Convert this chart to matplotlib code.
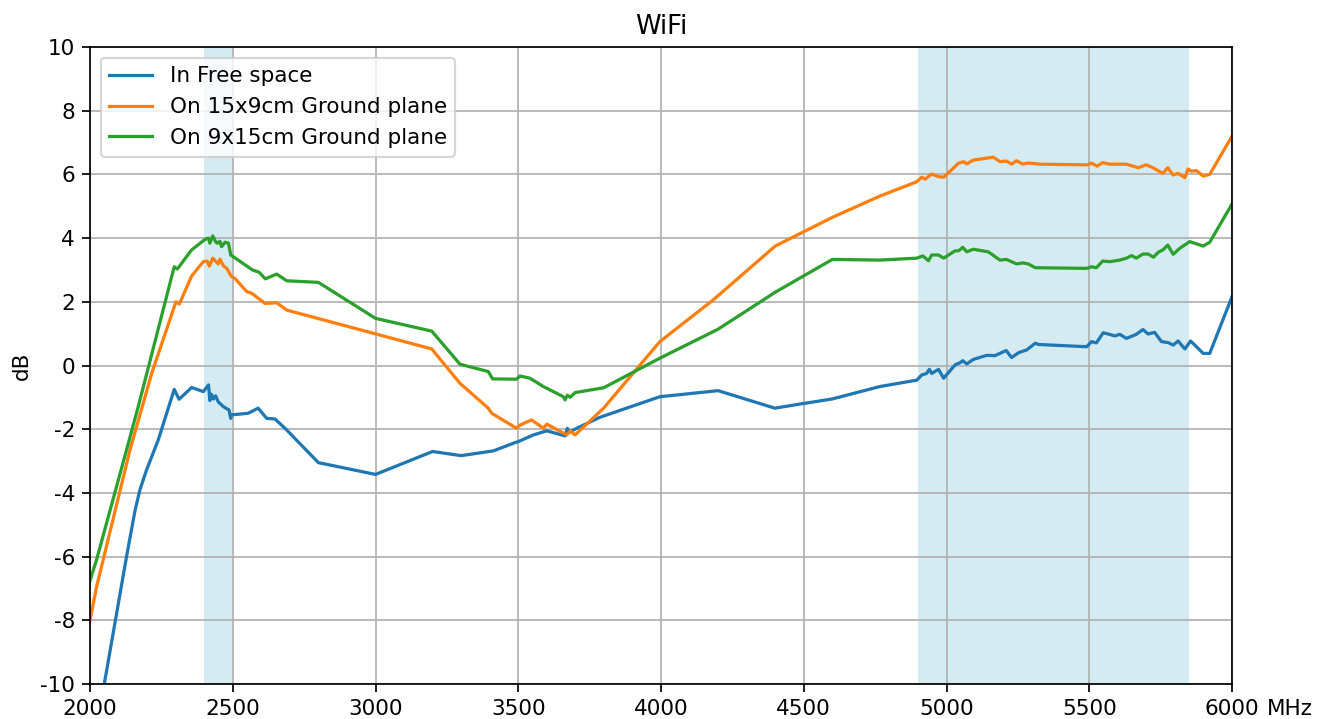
import matplotlib
matplotlib.use("Agg")
import matplotlib.pyplot as plt

plt.rcParams['axes.unicode_minus'] = False

free_f = [2050, 2128, 2158, 2175, 2198, 2239, 2295, 2312, 2356, 2397, 2415, 2420, 2425, 2432, 2440,
          2449, 2467, 2487, 2493, 2496, 2554, 2589, 2619, 2648, 2683, 2800, 3000, 3200, 3300, 3413,
          3489, 3500, 3553, 3600, 3664, 3672, 3678, 3705, 3785, 3996, 4200, 4399, 4487, 4600, 4767,
          4896, 4913, 4930, 4940, 4948, 4972, 4990, 5030, 5048, 5057, 5071, 5094, 5141, 5170, 5209,
          5228, 5252, 5281, 5311, 5322, 5491, 5508, 5525, 5549, 5590, 5607, 5630, 5665, 5688, 5706,
          5729, 5753, 5776, 5794, 5811, 5835, 5855, 5899, 5922, 6000]
free_db = [-10.0, -6.0, -4.54, -3.9, -3.28, -2.34, -0.75, -1.06, -0.69, -0.82, -0.61, -1.10, -0.9, -1.05, -0.95,
           -1.14, -1.29, -1.40, -1.66, -1.55, -1.50, -1.34, -1.66, -1.68, -1.97, -3.05, -3.42, -2.70, -2.83, -2.68,
           -2.42, -2.39, -2.18, -2.05, -2.21, -1.97, -2.10, -1.97, -1.63, -0.98, -0.79, -1.34, -1.21, -1.05, -0.66,
           -0.46, -0.30, -0.25, -0.12, -0.25, -0.12, -0.40, 0.02, 0.09, 0.15, 0.05, 0.19, 0.32, 0.31, 0.47,
           0.25, 0.40, 0.49, 0.70, 0.66, 0.59, 0.75, 0.71, 1.03, 0.93, 0.98, 0.85, 0.98, 1.13, 0.99,
           1.04, 0.75, 0.72, 0.64, 0.77, 0.52, 0.77, 0.38, 0.38, 2.16]

gp159_f = [2000, 2023, 2140, 2216, 2301, 2313, 2356, 2397, 2410, 2418, 2430, 2449, 2455, 2467, 2479, 2496,
           2508, 2549, 2566, 2613, 2654, 2689, 3197, 3296, 3395, 3407, 3494, 3506, 3547, 3588, 3600,
           3670, 3682, 3699, 3799, 3996, 4183, 4400, 4600, 4767, 4896, 4913, 4925, 4948, 4972, 4990,
           5042, 5060, 5071, 5094, 5164, 5187, 5210, 5228, 5245, 5268, 5286, 5328, 5491, 5508, 5528,
           5547, 5572, 5630, 5671, 5700, 5723, 5758, 5775, 5794, 5811, 5835, 5846, 5858, 5875, 5899,
           5922, 6000]
gp159_db = [-8.0, -6.95, -2.65, -0.25, 2.0, 1.93, 2.81, 3.26, 3.28, 3.12, 3.37, 3.19, 3.34, 3.13, 3.05, 2.79,
            2.73, 2.32, 2.27, 1.95, 1.97, 1.74, 0.52, -0.56, -1.34, -1.50, -1.97, -1.87, -1.71, -1.97, -1.84,
            -2.18, -2.06, -2.18, -1.34, 0.75, 2.06, 3.75, 4.65, 5.32, 5.77, 5.91, 5.85, 6.01, 5.93, 5.91,
            6.35, 6.40, 6.33, 6.45, 6.54, 6.40, 6.42, 6.32, 6.43, 6.32, 6.36, 6.32, 6.30, 6.35, 6.26,
            6.37, 6.32, 6.32, 6.21, 6.30, 6.21, 6.03, 6.21, 5.98, 6.03, 5.90, 6.17, 6.10, 6.12, 5.95,
            6.00, 7.20]

gp915_f = [2000, 2023, 2128, 2169, 2295, 2306, 2356, 2403, 2415, 2420, 2430, 2441, 2446, 2455, 2461, 2473,
           2485, 2493, 2519, 2569, 2592, 2614, 2654, 2689, 2800, 3000, 3197, 3296, 3395, 3410, 3494,
           3506, 3541, 3588, 3658, 3664, 3672, 3682, 3699, 3799, 3996, 4200, 4400, 4600, 4767, 4896,
           4917, 4937, 4948, 4972, 4990, 5030, 5042, 5057, 5071, 5094, 5146, 5187, 5210, 5245, 5268,
           5286, 5311, 5491, 5508, 5525, 5547, 5572, 5607, 5630, 5648, 5665, 5688, 5706, 5725, 5741,
           5758, 5775, 5794, 5817, 5852, 5899, 5922, 6000]
gp915_db = [-6.75, -6.1, -2.65, -1.29, 3.10, 3.03, 3.63, 3.96, 4.00, 3.84, 4.07, 3.87, 3.84, 3.90, 3.73, 3.87,
            3.84, 3.47, 3.31, 3.00, 2.93, 2.72, 2.87, 2.66, 2.61, 1.48, 1.08, 0.04, -0.19, -0.42, -0.43,
            -0.33, -0.40, -0.66, -0.98, -1.08, -0.93, -1.00, -0.85, -0.70, 0.23, 1.14, 2.30, 3.33, 3.31, 3.37,
            3.44, 3.29, 3.47, 3.47, 3.37, 3.60, 3.60, 3.71, 3.57, 3.65, 3.57, 3.31, 3.33, 3.19, 3.22,
            3.19, 3.07, 3.05, 3.10, 3.07, 3.28, 3.26, 3.31, 3.37, 3.45, 3.37, 3.50, 3.50, 3.40, 3.55,
            3.63, 3.78, 3.49, 3.68, 3.89, 3.75, 3.87, 5.07]

bands = [(2400, 2500), (4900, 5850)]

DPI = 155
fig = plt.figure(figsize=(1325 / DPI, 719 / DPI), dpi=DPI)
ax = fig.add_axes([90 / 1325, 1 - 684 / 719, (1232 - 90) / 1325, (684 - 47) / 719])

for lo, hi in bands:
    ax.axvspan(lo, hi, color='lightblue', alpha=0.5, lw=0)

ax.plot(free_f, free_db, label='In Free space')
ax.plot(gp159_f, gp159_db, label='On 15x9cm Ground plane')
ax.plot(gp915_f, gp915_db, label='On 9x15cm Ground plane')

ax.set_xlim(2000, 6000)
ax.set_ylim(-10, 10)
ax.set_yticks(range(-10, 11, 2))
ax.grid(True)
ax.set_title('WiFi')
ax.set_ylabel('dB')
ax.legend(loc='upper left')
ax.annotate('MHz', xy=(1, 0), xycoords='axes fraction', xytext=(16, -7),
            textcoords='offset points', ha='left', va='top')

fig.savefig('out.png', dpi=DPI)
